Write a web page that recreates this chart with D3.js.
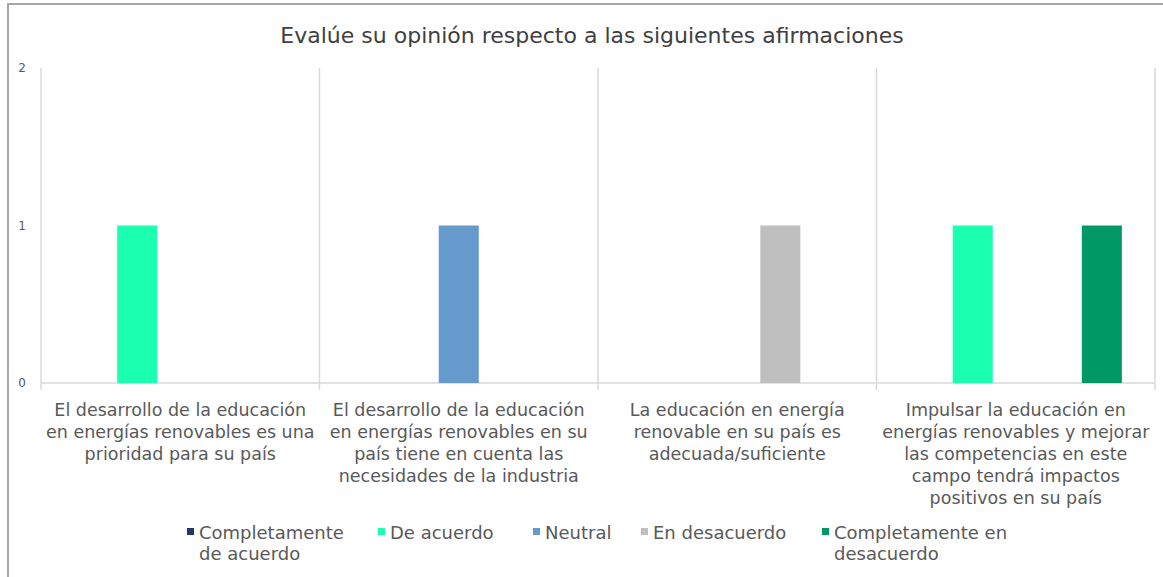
<!DOCTYPE html>
<html>
<head>
<meta charset="utf-8">
<script src="https://cdn.jsdelivr.net/npm/d3@7"></script>
<style>
  body { margin: 0; background: #fff; }
  text { font-family: "DejaVu Sans", sans-serif; fill: #595959; }
</style>
</head>
<body>
<script>
// chart data
var categories = ["c1", "c2", "c3", "c4"];
var categoryLines = [
  ["El desarrollo de la educación", "en energías renovables es una", "prioridad para su país"],
  ["El desarrollo de la educación", "en energías renovables en su", "país tiene en cuenta las", "necesidades de la industria"],
  ["La educación en energía", "renovable en su país es", "adecuada/suficiente"],
  ["Impulsar la educación en", "energías renovables y mejorar", "las competencias en este", "campo tendrá impactos", "positivos en su país"]
];
var seriesNames = ["Completamente de acuerdo", "De acuerdo", "Neutral", "En desacuerdo", "Completamente en desacuerdo"];
var legendLines = [["Completamente", "de acuerdo"], ["De acuerdo"], ["Neutral"], ["En desacuerdo"], ["Completamente en", "desacuerdo"]];
var seriesColors = ["#1f3864", "#1affb0", "#6699cc", "#bfbfbf", "#009966"];
var completamenteDeAcuerdo = [0, 0, 0, 0];
var deAcuerdo = [1, 0, 0, 1];
var neutral = [0, 1, 0, 0];
var enDesacuerdo = [0, 0, 1, 0];
var completamenteEnDesacuerdo = [0, 0, 0, 1];
var yTicks = [0, 1, 2];

var seriesValues = [completamenteDeAcuerdo, deAcuerdo, neutral, enDesacuerdo, completamenteEnDesacuerdo];

var svg = d3.select("body").append("svg")
            .attr("width", 1163)
            .attr("height", 577);

// outer frame
svg.append("rect")
   .attr("x", 8).attr("y", 4)
   .attr("width", 1170).attr("height", 590)
   .attr("fill", "none")
   .attr("stroke", "#a6a6a6")
   .attr("stroke-width", 2);

svg.append("text")
   .attr("x", 592).attr("y", 43)
   .attr("text-anchor", "middle")
   .style("font-size", "22px")
   .style("fill", "#404040")
   .text("Evalúe su opinión respecto a las siguientes afirmaciones");

var margin = {left: 41, right: 8, top: 68, bottom: 194};
var width = 1163 - margin.left - margin.right;
var height = 577 - margin.top - margin.bottom;

var g = svg.append("g")
           .attr("transform", "translate(" + margin.left + "," + margin.top + ")");

var x0 = d3.scaleBand().domain(categories).range([0, width]).padding(0);
var x1 = d3.scaleBand().domain(seriesNames).range([0, x0.bandwidth()])
           .paddingInner(0.07).paddingOuter(0.77);
var y = d3.scaleLinear().domain([0, 2]).range([height, 0]);

// vertical separators between categories
var seps = categories.map(function(c) { return x0(c); }).concat([width]);
g.selectAll(".sep").data(seps).enter().append("line")
 .attr("x1", function(d) { return d; }).attr("x2", function(d) { return d; })
 .attr("y1", 0).attr("y2", height + 7)
 .attr("stroke", "#d9d9d9").attr("stroke-width", 1.5);

// baseline
g.append("line")
 .attr("x1", 0).attr("x2", width)
 .attr("y1", y(0)).attr("y2", y(0))
 .attr("stroke", "#d9d9d9").attr("stroke-width", 1.5);

// y ticks
g.selectAll(".ytick").data(yTicks).enter().append("text")
 .attr("x", -15).attr("y", function(d) { return y(d) + 4; })
 .attr("text-anchor", "end")
 .style("font-size", "12px")
 .text(function(d) { return d; });

// bars
categories.forEach(function(c, ci) {
  seriesNames.forEach(function(s, si) {
    var v = seriesValues[si][ci];
    if (v <= 0) return;
    g.append("rect")
     .attr("x", x0(c) + x1(s))
     .attr("y", y(v))
     .attr("width", x1.bandwidth())
     .attr("height", y(0) - y(v))
     .attr("fill", seriesColors[si]);
  });
});

// category labels
categories.forEach(function(c, ci) {
  var t = g.append("text")
           .attr("text-anchor", "middle")
           .style("font-size", "17.5px");
  categoryLines[ci].forEach(function(line, li) {
    t.append("tspan")
     .attr("x", x0(c) + x0.bandwidth() / 2)
     .attr("y", height + 33 + li * 22)
     .text(line);
  });
});

// legend
var legendX = [187, 378, 533, 641, 822];
var legend = svg.append("g");
seriesNames.forEach(function(s, i) {
  legend.append("rect")
        .attr("x", legendX[i]).attr("y", 528)
        .attr("width", 7).attr("height", 7)
        .attr("fill", seriesColors[i]);
  var t = legend.append("text").style("font-size", "18px");
  legendLines[i].forEach(function(line, li) {
    t.append("tspan")
     .attr("x", legendX[i] + 12)
     .attr("y", 539 + li * 21)
     .text(line);
  });
});
</script>
</body>
</html>
